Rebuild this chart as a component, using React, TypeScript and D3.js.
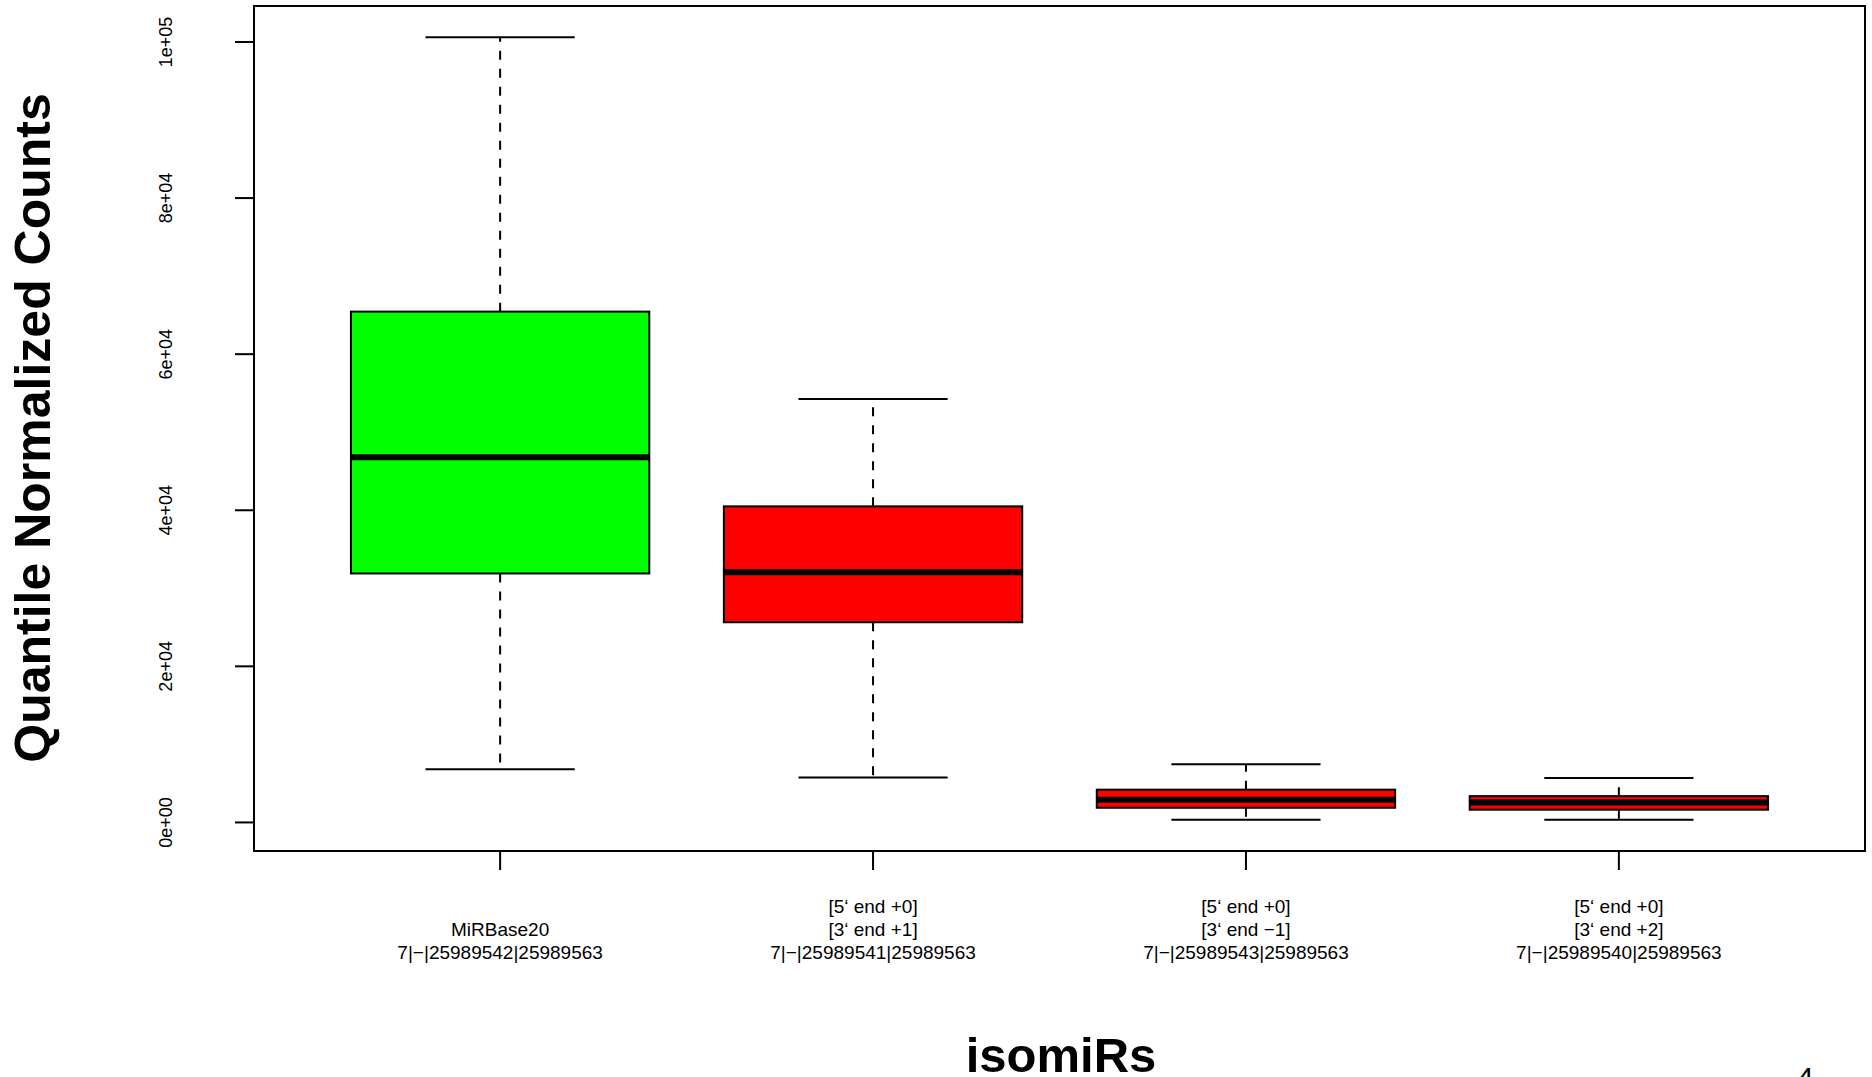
import React from "react";
import * as d3 from "d3";

const categories = ["MiRBase20", "5p0_3p+1", "5p0_3p-1", "5p0_3p+2"];
const labelLines: string[][] = [
  ["MiRBase20", "7|−|25989542|25989563"],
  ["[5‘ end +0]", "[3‘ end +1]", "7|−|25989541|25989563"],
  ["[5‘ end +0]", "[3‘ end −1]", "7|−|25989543|25989563"],
  ["[5‘ end +0]", "[3‘ end +2]", "7|−|25989540|25989563"],
];
const lowerWhisker = [6800, 5750, 350, 350];
const q1 = [31900, 25650, 1880, 1630];
const median = [46800, 32050, 2900, 2550];
const q3 = [65450, 40500, 4200, 3370];
const upperWhisker = [100600, 54250, 7450, 5680];
const boxColors = ["#00ff00", "#ff0000", "#ff0000", "#ff0000"];
const yTicks = [0, 20000, 40000, 60000, 80000, 100000];
const yTickLabels = ["0e+00", "2e+04", "4e+04", "6e+04", "8e+04", "1e+05"];

const W = 1872;
const H = 1077;
const plot = { left: 254, right: 1865, top: 6, bottom: 851 };
const FONT = "'Liberation Sans', Arial, Helvetica, sans-serif";

export default function App() {
  const n = categories.length;
  const xPad = n * 0.04;
  const x = d3
    .scaleLinear()
    .domain([0.5 - xPad, n + 0.5 + xPad])
    .range([plot.left, plot.right]);
  const dMin = d3.min(lowerWhisker) as number;
  const dMax = d3.max(upperWhisker) as number;
  const r = dMax - dMin;
  const y = d3
    .scaleLinear()
    .domain([dMin - 0.04 * r, dMax + 0.04 * r])
    .range([plot.bottom, plot.top]);

  const boxHalf = (x(1.4) - x(1)) ;
  const capHalf = (x(1.2) - x(1));
  const tickLen = 19;

  return (
    <svg
      width={W}
      height={H}
      style={{ position: "absolute", left: 0, top: 0, display: "block", background: "#fff" }}
      fontFamily={FONT}
    >
      <rect x={0} y={0} width={W} height={H} fill="#fff" />
      {categories.map((c, i) => {
        const cx = x(i + 1);
        return (
          <g key={c}>
            <line x1={cx} x2={cx} y1={y(q3[i])} y2={y(upperWhisker[i])} stroke="#000" strokeWidth={2} strokeDasharray="9,9" />
            <line x1={cx} x2={cx} y1={y(q1[i])} y2={y(lowerWhisker[i])} stroke="#000" strokeWidth={2} strokeDasharray="9,9" />
            <line x1={cx - capHalf} x2={cx + capHalf} y1={y(upperWhisker[i])} y2={y(upperWhisker[i])} stroke="#000" strokeWidth={2} />
            <line x1={cx - capHalf} x2={cx + capHalf} y1={y(lowerWhisker[i])} y2={y(lowerWhisker[i])} stroke="#000" strokeWidth={2} />
            <rect
              x={cx - boxHalf}
              y={y(q3[i])}
              width={boxHalf * 2}
              height={y(q1[i]) - y(q3[i])}
              fill={boxColors[i]}
              stroke="#000"
              strokeWidth={2}
            />
            <line x1={cx - boxHalf} x2={cx + boxHalf} y1={y(median[i])} y2={y(median[i])} stroke="#000" strokeWidth={6} />
          </g>
        );
      })}
      {/* plot frame */}
      <rect
        x={plot.left}
        y={plot.top}
        width={plot.right - plot.left}
        height={plot.bottom - plot.top}
        fill="none"
        stroke="#000"
        strokeWidth={2}
      />
      {/* y axis */}
      <line x1={plot.left} x2={plot.left} y1={y(yTicks[0])} y2={y(yTicks[yTicks.length - 1])} stroke="#000" strokeWidth={2} />
      {yTicks.map((t, i) => (
        <g key={t}>
          <line x1={plot.left - tickLen} x2={plot.left} y1={y(t)} y2={y(t)} stroke="#000" strokeWidth={2} />
          <text
            transform={`translate(${172},${y(t)}) rotate(-90)`}
            textAnchor="middle"
            fontSize={18}
            fill="#000"
          >
            {yTickLabels[i]}
          </text>
        </g>
      ))}
      {/* x axis */}
      <line x1={x(1)} x2={x(n)} y1={plot.bottom} y2={plot.bottom} stroke="#000" strokeWidth={2} />
      {categories.map((c, i) => {
        const lines = labelLines[i];
        const offset = 3 - lines.length;
        return (
          <g key={"xt" + c}>
            <line x1={x(i + 1)} x2={x(i + 1)} y1={plot.bottom} y2={plot.bottom + tickLen} stroke="#000" strokeWidth={2} />
            {lines.map((ln, j) => (
              <text
                key={j}
                x={x(i + 1)}
                y={913 + (j + offset) * 22.8}
                textAnchor="middle"
                fontSize={19}
                fill="#000"
              >
                {ln}
              </text>
            ))}
          </g>
        );
      })}
      {/* axis titles */}
      <text
        transform={`translate(${50},${428}) rotate(-90)`}
        textAnchor="middle"
        fontSize={50}
        fontWeight="bold"
        fill="#000"
      >
        Quantile Normalized Counts
      </text>
      <text x={1061} y={1072} textAnchor="middle" fontSize={49} fontWeight="bold" fill="#000">
        isomiRs
      </text>
      <text x={1797} y={1088} fontSize={30} fill="#000">
        4
      </text>
    </svg>
  );
}
